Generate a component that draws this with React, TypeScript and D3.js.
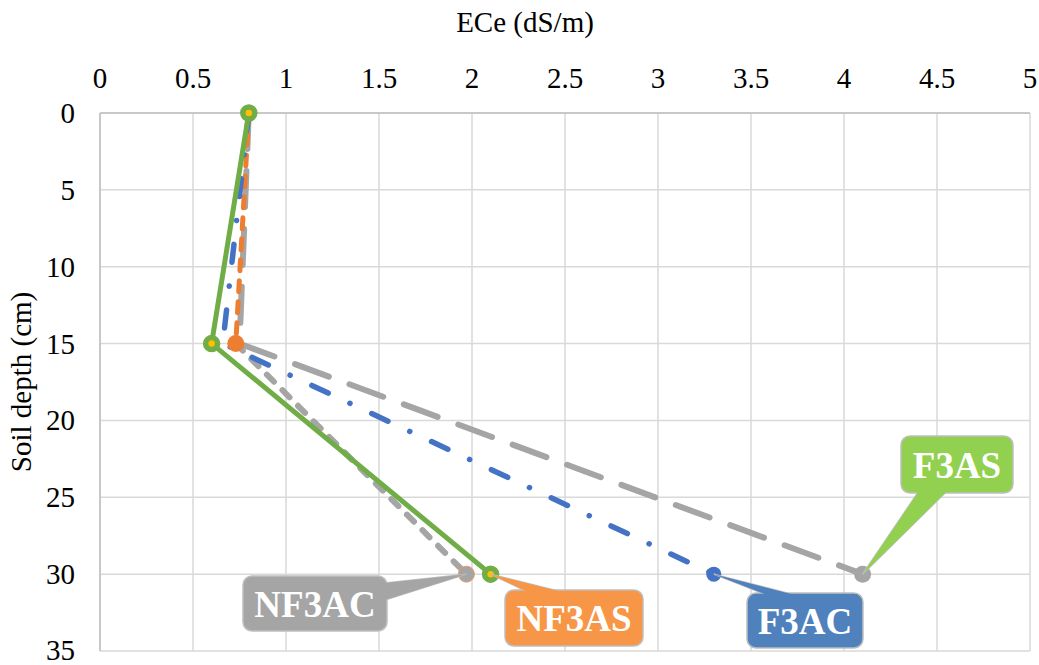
import React from "react";
import * as d3 from "d3";

// depths (cm) shared by all series
const depths = [0, 15, 30];
const xTicks = [0, 0.5, 1, 1.5, 2, 2.5, 3, 3.5, 4, 4.5, 5];
const yTicks = [0, 5, 10, 15, 20, 25, 30, 35];

// ECe values per series
const f3as = [0.8, 0.75, 4.1];
const nf3ac = [0.8, 0.73, 1.97];
const f3ac = [0.8, 0.66, 3.3];
const nf3as = [0.8, 0.6, 2.1];

const W = 1039;
const H = 665;
const FONT = "Liberation Serif, Times New Roman, serif";

const x = d3.scaleLinear().domain([0, 5]).range([100, 1030]);
const y = d3.scaleLinear().domain([0, 35]).range([113, 651]);
const line = d3.line<number[]>().x((d) => d[0]).y((d) => d[1]);
const pts = (vals: number[]) => vals.map((v, i) => [x(v), y(depths[i])]);

const callouts = [
  { text: "NF3AC", fill: "#a5a5a5", vx: nf3ac[2], bx: 243, by: 576, bw: 144, bh: 55, tail: [[385, 583], [385, 600]] },
  { text: "NF3AS", fill: "#f79646", vx: nf3as[2], bx: 505, by: 590, bw: 138, bh: 56, tail: [[528, 592], [562, 592]] },
  { text: "F3AC", fill: "#4f81bd", vx: f3ac[2], bx: 747, by: 593, bw: 116, bh: 55, tail: [[767, 595], [795, 595]] },
  { text: "F3AS", fill: "#92d050", vx: f3as[2], bx: 901, by: 436, bw: 112, bh: 57, tail: [[919, 491], [947, 491]] },
];

const App = () => {
  const p = pts(nf3ac);
  return (
    <svg width={W} height={H} fontFamily={FONT} style={{ display: "block", position: "absolute", left: 0, top: 0, background: "#fff" }}>
      {/* grid */}
      {xTicks.map((t) => (
        <line key={"gx" + t} x1={x(t)} x2={x(t)} y1={y(0)} y2={y(35)} stroke="#d9d9d9" strokeWidth={1.5} />
      ))}
      {yTicks.map((t) => (
        <line key={"gy" + t} x1={x(0)} x2={x(5)} y1={y(t)} y2={y(t)} stroke="#d9d9d9" strokeWidth={1.5} />
      ))}
      <line x1={x(0)} x2={x(5)} y1={y(0)} y2={y(0)} stroke="#bfbfbf" strokeWidth={1.5} />
      <line x1={x(0)} x2={x(0)} y1={y(0)} y2={y(35)} stroke="#bfbfbf" strokeWidth={1.5} />

      {/* tick labels */}
      {xTicks.map((t) => (
        <text key={"tx" + t} x={x(t)} y={88} textAnchor="middle" fontSize={29} fontFamily={FONT} fill="#000">
          {t}
        </text>
      ))}
      {yTicks.map((t) => (
        <text key={"ty" + t} x={75} y={Math.min(y(t) + 10, 660)} textAnchor="end" fontSize={29} fontFamily={FONT} fill="#000">
          {t}
        </text>
      ))}

      {/* axis titles */}
      <text x={525} y={32} textAnchor="middle" fontSize={29} fontFamily={FONT}>ECe (dS/m)</text>
      <text transform="translate(31,382) rotate(-90)" textAnchor="middle" fontSize={29} fontFamily={FONT}>
        Soil depth (cm)
      </text>

      {/* F3AS: gray long dash */}
      <path d={line(pts(f3as)) || ""} fill="none" stroke="#a5a5a5" strokeWidth={6} strokeDasharray="36 22" strokeLinecap="round" />

      {/* NF3AC: short dash, first segment orange, second gray */}
      <path d={line([p[1], p[2]]) || ""} fill="none" stroke="#a5a5a5" strokeWidth={6} strokeDasharray="10 12" strokeLinecap="round" />
      <path d={line([p[0], p[1]]) || ""} fill="none" stroke="#ed7d31" strokeWidth={5} strokeDasharray="11 10" strokeLinecap="round" />

      {/* F3AC: blue long dash dot */}
      <path d={line(pts(f3ac)) || ""} fill="none" stroke="#4472c4" strokeWidth={5.5} strokeDasharray="18 24 0.1 24" strokeLinecap="round" />

      {/* markers */}
      <circle cx={x(f3as[2])} cy={y(depths[2])} r={8.5} fill="#a5a5a5" />
      <circle cx={x(f3ac[2])} cy={y(depths[2])} r={7.5} fill="#4472c4" />
      <circle cx={x(nf3ac[2])} cy={y(depths[2])} r={8} fill="#a5a5a5" stroke="#ed9a66" strokeWidth={1} />
      <circle cx={x(nf3ac[1])} cy={y(depths[1])} r={8.5} fill="#ed7d31" />

      {/* NF3AS: solid green with ring markers */}
      <path d={line(pts(nf3as)) || ""} fill="none" stroke="#70ad47" strokeWidth={5} />
      {nf3as.map((v, i) => (
        <circle key={"m" + i} cx={x(v)} cy={y(depths[i])} r={6} fill="#ffc000" stroke="#70ad47" strokeWidth={5.5} />
      ))}

      {/* callouts */}
      {callouts.map((c) => {
        const px = x(c.vx);
        const py = y(depths[2]);
        const tail = `M${c.tail[0][0]},${c.tail[0][1]} L${px},${py} L${c.tail[1][0]},${c.tail[1][1]} Z`;
        return (
          <g key={c.text}>
            <path d={tail} fill={c.fill} stroke="#bfbfbf" strokeWidth={1.5} />
            <rect x={c.bx} y={c.by} width={c.bw} height={c.bh} rx={9} fill={c.fill} stroke="#bfbfbf" strokeWidth={1.5} />
            <path d={tail} fill={c.fill} stroke="none" />
            <text x={c.bx + c.bw / 2} y={c.by + c.bh / 2 + 13} textAnchor="middle" fontSize={37} fontWeight="bold" fontFamily={FONT} fill="#fff">
              {c.text}
            </text>
          </g>
        );
      })}
    </svg>
  );
};

export default App;
